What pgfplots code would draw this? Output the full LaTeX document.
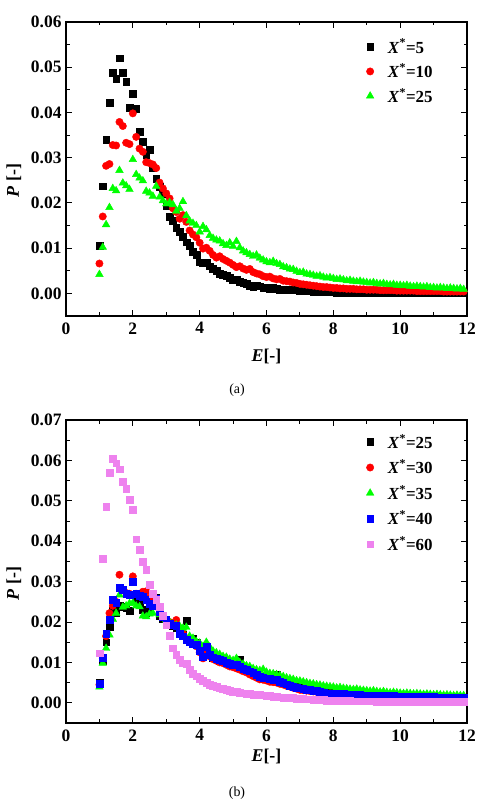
\documentclass[border=0pt]{standalone}
\usepackage{fontspec}
\setmainfont{Liberation Serif}
\usepackage{pgfplots}
\usepackage{pgfplotstable}
\pgfplotsset{compat=1.18}

\definecolor{vio}{RGB}{238,130,238}
\definecolor{lime}{RGB}{0,255,0}

% P(E) for X* = 5, 10, 25
\pgfplotstableread{
E k5 r10 g25
1.0 0.0106 0.0066 0.0042
1.1 0.0237 0.0170 0.0102
1.2 0.0339 0.0282 0.0152
1.3 0.0421 0.0286 0.0190
1.4 0.0488 0.0328 0.0232
1.5 0.0475 0.0327 0.0227
1.6 0.0520 0.0379 0.0272
1.7 0.0488 0.0370 0.0244
1.8 0.0468 0.0333 0.0238
1.9 0.0411 0.0330 0.0230
2.0 0.0442 0.0398 0.0296
2.1 0.0409 0.0346 0.0263
2.2 0.0357 0.0320 0.0255
2.3 0.0335 0.0313 0.0249
2.4 0.0306 0.0290 0.0226
2.5 0.0318 0.0288 0.0222
2.6 0.0277 0.0285 0.0215
2.7 0.0254 0.0277 0.0237
2.8 0.0235 0.0245 0.0213
2.9 0.0221 0.0232 0.0205
3.0 0.0193 0.0221 0.0198
3.1 0.0169 0.0210 0.0201
3.2 0.0160 0.0188 0.0196
3.3 0.0145 0.0180 0.0182
3.4 0.0136 0.0165 0.0188
3.5 0.0126 0.0173 0.0203
3.6 0.0113 0.0158 0.0172
3.7 0.0105 0.0139 0.0160
3.8 0.0093 0.0130 0.0155
3.9 0.0086 0.0124 0.0150
4.0 0.0069 0.0112 0.0136
4.1 0.0067 0.0099 0.0148
4.2 0.0068 0.0101 0.0141
4.3 0.0060 0.0094 0.0128
4.4 0.0054 0.0085 0.0122
4.5 0.0050 0.0079 0.0118
4.6 0.0044 0.0082 0.0116
4.7 0.0041 0.0076 0.0110
4.8 0.0039 0.0072 0.0106
4.9 0.0034 0.0068 0.0112
5.0 0.0031 0.0063 0.0104
5.1 0.0030 0.0058 0.0115
5.2 0.0026 0.0060 0.0101
5.3 0.0024 0.0055 0.0094
5.4 0.0021 0.0052 0.0090
5.5 0.0017 0.0054 0.0086
5.6 0.0015 0.0047 0.0082
5.7 0.0018 0.0044 0.0085
5.8 0.0016 0.0042 0.0078
5.9 0.0013 0.0038 0.0074
6.0 0.0012 0.0036 0.0070
6.1 0.0011 0.0037 0.0068
6.2 0.0012 0.0033 0.0071
6.3 0.0010 0.0031 0.0066
6.4 0.0009 0.0032 0.0064
6.5 0.0008 0.0028 0.0059
6.6 0.0009 0.0027 0.0057
6.7 0.0008 0.0026 0.0054
6.8 0.0008 0.0024 0.0053
6.9 0.0007 0.0023 0.0049
7.0 0.0006 0.0021 0.0046
7.1 0.0006 0.0020 0.0047
7.2 0.0005 0.0019 0.0043
7.3 0.0005 0.0018 0.0042
7.4 0.0004 0.0017 0.0040
7.5 0.0004 0.0016 0.0038
7.6 0.0004 0.0015 0.0039
7.7 0.0003 0.0014 0.0036
7.8 0.0003 0.0014 0.0034
7.9 0.0003 0.0013 0.0035
8.0 0.0003 0.0012 0.0033
8.1 0.0002 0.0012 0.0031
8.2 0.0002 0.0011 0.0032
8.3 0.0002 0.0011 0.0030
8.4 0.0002 0.0010 0.0028
8.5 0.0002 0.0010 0.0029
8.6 0.0002 0.0010 0.0027
8.7 0.0002 0.0009 0.0026
8.8 0.0002 0.0009 0.0027
8.9 0.0002 0.0009 0.0025
9.0 0.0002 0.0008 0.0024
9.1 0.0002 0.0008 0.0023
9.2 0.0002 0.0008 0.0024
9.3 0.0002 0.0008 0.0022
9.4 0.0002 0.0007 0.0021
9.5 0.0002 0.0007 0.0022
9.6 0.0001 0.0007 0.0020
9.7 0.0001 0.0007 0.0019
9.8 0.0001 0.0007 0.0020
9.9 0.0001 0.0006 0.0018
10.0 0.0001 0.0006 0.0018
10.1 0.0001 0.0006 0.0017
10.2 0.0001 0.0006 0.0018
10.3 0.0001 0.0006 0.0016
10.4 0.0001 0.0006 0.0015
10.5 0.0001 0.0005 0.0016
10.6 0.0001 0.0005 0.0015
10.7 0.0001 0.0005 0.0014
10.8 0.0001 0.0005 0.0015
10.9 0.0001 0.0005 0.0013
11.0 0.0001 0.0005 0.0013
11.1 0.0001 0.0005 0.0012
11.2 0.0001 0.0005 0.0013
11.3 0.0001 0.0004 0.0012
11.4 0.0001 0.0004 0.0011
11.5 0.0001 0.0004 0.0012
11.6 0.0001 0.0004 0.0011
11.7 0.0001 0.0004 0.0010
11.8 0.0001 0.0004 0.0011
11.9 0.0001 0.0004 0.0009
}\tabA

% P(E) for X* = 25, 30, 35, 40, 60
\pgfplotstableread{
E k25 r30 g35 b40 p60
1.0 0.0049 0.0045 0.0039 0.0047 0.0123
1.1 0.0105 0.0110 0.0098 0.0112 0.0357
1.2 0.0150 0.0165 0.0135 0.0172 0.0486
1.3 0.0189 0.0222 0.0168 0.0205 0.0570
1.4 0.0228 0.0240 0.0207 0.0256 0.0604
1.5 0.0222 0.0250 0.0222 0.0247 0.0593
1.6 0.0240 0.0317 0.0267 0.0284 0.0578
1.7 0.0238 0.0280 0.0237 0.0280 0.0548
1.8 0.0235 0.0272 0.0240 0.0271 0.0529
1.9 0.0228 0.0270 0.0246 0.0268 0.0502
2.0 0.0300 0.0313 0.0247 0.0300 0.0477
2.1 0.0255 0.0270 0.0240 0.0270 0.0405
2.2 0.0250 0.0268 0.0238 0.0265 0.0378
2.3 0.0230 0.0275 0.0215 0.0263 0.0350
2.4 0.0222 0.0276 0.0213 0.0256 0.0329
2.5 0.0232 0.0260 0.0220 0.0245 0.0292
2.6 0.0247 0.0250 0.0222 0.0240 0.0270
2.7 0.0260 0.0245 0.0242 0.0259 0.0255
2.8 0.0215 0.0230 0.0218 0.0225 0.0237
2.9 0.0208 0.0212 0.0210 0.0213 0.0215
3.0 0.0200 0.0205 0.0205 0.0205 0.0192
3.1 0.0196 0.0200 0.0200 0.0197 0.0166
3.2 0.0190 0.0198 0.0195 0.0192 0.0135
3.3 0.0186 0.0205 0.0192 0.0190 0.0120
3.4 0.0175 0.0185 0.0190 0.0172 0.0106
3.5 0.0168 0.0172 0.0185 0.0165 0.0098
3.6 0.0204 0.0160 0.0187 0.0156 0.0096
3.7 0.0160 0.0150 0.0165 0.0150 0.0082
3.8 0.0158 0.0145 0.0160 0.0145 0.0073
3.9 0.0150 0.0140 0.0152 0.0143 0.0066
4.0 0.0128 0.0125 0.0148 0.0128 0.0060
4.1 0.0118 0.0110 0.0140 0.0115 0.0055
4.2 0.0136 0.0128 0.0150 0.0139 0.0050
4.3 0.0120 0.0115 0.0138 0.0120 0.0045
4.4 0.0112 0.0108 0.0128 0.0113 0.0042
4.5 0.0108 0.0104 0.0124 0.0110 0.0039
4.6 0.0105 0.0100 0.0120 0.0106 0.0036
4.7 0.0102 0.0098 0.0115 0.0104 0.0034
4.8 0.0098 0.0094 0.0113 0.0100 0.0032
4.9 0.0096 0.0090 0.0108 0.0097 0.0030
5.0 0.0093 0.0088 0.0105 0.0094 0.0028
5.1 0.0092 0.0085 0.0110 0.0094 0.0027
5.2 0.0106 0.0082 0.0100 0.0090 0.0025
5.3 0.0085 0.0078 0.0096 0.0085 0.0024
5.4 0.0080 0.0075 0.0092 0.0082 0.0023
5.5 0.0076 0.0070 0.0090 0.0078 0.0022
5.6 0.0073 0.0066 0.0085 0.0075 0.0021
5.7 0.0068 0.0062 0.0082 0.0070 0.0020
5.8 0.0064 0.0058 0.0080 0.0065 0.0020
5.9 0.0062 0.0057 0.0083 0.0063 0.0019
6.0 0.0060 0.0055 0.0076 0.0061 0.0018
6.1 0.0058 0.0052 0.0073 0.0059 0.0017
6.2 0.0057 0.0051 0.0072 0.0058 0.0016
6.3 0.0069 0.0050 0.0070 0.0057 0.0015
6.4 0.0053 0.0047 0.0068 0.0052 0.0014
6.5 0.0050 0.0045 0.0065 0.0050 0.0013
6.6 0.0047 0.0042 0.0062 0.0046 0.0013
6.7 0.0044 0.0040 0.0060 0.0043 0.0012
6.8 0.0041 0.0037 0.0058 0.0040 0.0012
6.9 0.0039 0.0035 0.0055 0.0038 0.0011
7.0 0.0037 0.0032 0.0054 0.0036 0.0010
7.1 0.0036 0.0031 0.0052 0.0035 0.0010
7.2 0.0034 0.0030 0.0050 0.0033 0.0009
7.3 0.0033 0.0029 0.0048 0.0032 0.0009
7.4 0.0031 0.0028 0.0047 0.0030 0.0008
7.5 0.0030 0.0027 0.0045 0.0029 0.0008
7.6 0.0028 0.0026 0.0044 0.0027 0.0007
7.7 0.0027 0.0025 0.0042 0.0026 0.0007
7.8 0.0026 0.0024 0.0041 0.0024 0.0006
7.9 0.0025 0.0023 0.0040 0.0024 0.0006
8.0 0.0024 0.0022 0.0039 0.0023 0.0006
8.1 0.0023 0.0022 0.0037 0.0023 0.0005
8.2 0.0023 0.0021 0.0038 0.0022 0.0005
8.3 0.0022 0.0021 0.0036 0.0022 0.0005
8.4 0.0022 0.0020 0.0035 0.0021 0.0005
8.5 0.0021 0.0020 0.0034 0.0021 0.0005
8.6 0.0021 0.0019 0.0033 0.0020 0.0004
8.7 0.0020 0.0019 0.0034 0.0020 0.0004
8.8 0.0020 0.0019 0.0032 0.0020 0.0004
8.9 0.0020 0.0018 0.0031 0.0019 0.0004
9.0 0.0019 0.0018 0.0030 0.0019 0.0004
9.1 0.0019 0.0018 0.0029 0.0019 0.0004
9.2 0.0019 0.0017 0.0030 0.0018 0.0004
9.3 0.0018 0.0017 0.0028 0.0018 0.0003
9.4 0.0018 0.0017 0.0027 0.0018 0.0003
9.5 0.0018 0.0016 0.0028 0.0017 0.0003
9.6 0.0017 0.0016 0.0026 0.0017 0.0003
9.7 0.0017 0.0016 0.0025 0.0017 0.0003
9.8 0.0017 0.0016 0.0026 0.0017 0.0003
9.9 0.0017 0.0015 0.0025 0.0016 0.0003
10.0 0.0016 0.0015 0.0024 0.0016 0.0003
10.1 0.0016 0.0015 0.0023 0.0016 0.0003
10.2 0.0016 0.0015 0.0024 0.0016 0.0003
10.3 0.0016 0.0015 0.0023 0.0016 0.0003
10.4 0.0016 0.0014 0.0022 0.0015 0.0003
10.5 0.0015 0.0014 0.0023 0.0015 0.0003
10.6 0.0015 0.0014 0.0022 0.0015 0.0002
10.7 0.0015 0.0014 0.0021 0.0015 0.0002
10.8 0.0015 0.0014 0.0022 0.0015 0.0002
10.9 0.0015 0.0014 0.0021 0.0015 0.0002
11.0 0.0015 0.0013 0.0020 0.0015 0.0002
11.1 0.0014 0.0013 0.0021 0.0014 0.0002
11.2 0.0014 0.0013 0.0020 0.0014 0.0002
11.3 0.0014 0.0013 0.0019 0.0014 0.0002
11.4 0.0014 0.0013 0.0020 0.0014 0.0002
11.5 0.0014 0.0013 0.0019 0.0014 0.0002
11.6 0.0014 0.0013 0.0018 0.0014 0.0002
11.7 0.0014 0.0013 0.0019 0.0014 0.0002
11.8 0.0014 0.0012 0.0018 0.0014 0.0002
11.9 0.0013 0.0012 0.0018 0.0013 0.0002
}\tabB

% bold tick label text
\newcommand{\tl}[1]{{\fontsize{17.5}{20}\selectfont\bfseries #1}}

\pgfplotsset{
  panel/.style={
    scale only axis, width=401bp,
    xmin=0, xmax=12, xtick={0,2,4,6,8,10,12},
    xticklabels={\tl{0},\tl{2},\tl{4},\tl{6},\tl{8},\tl{10},\tl{12}},
    minor x tick num=1,
    ymin=-0.005, minor y tick num=1,
    scaled y ticks=false,
    tick align=inside,
    major tick length=6bp, minor tick length=3.5bp,
    axis line style={line width=1.1bp},
    every tick/.append style={black, line width=0.9bp},
    xticklabel style={yshift=-3bp},
    yticklabel style={xshift=-1bp},
    label style={font=\fontsize{18}{21}\selectfont\bfseries},
    xlabel={\textit{E}[-]},
    ylabel={\textit{P} [-]},
    ylabel style={at={(axis description cs:-0.13,0.46)}, anchor=center},
    legend style={draw=none, fill=none, font=\fontsize{17}{20}\selectfont\bfseries,
                  anchor=north west, row sep=5bp,
                  /tikz/every odd column/.append style={column sep=12bp}},
    legend cell align=left,
    legend image code/.code={\draw[mark repeat=2,mark phase=2,#1]
        plot coordinates {(0bp,0bp)(7bp,0bp)(14bp,0bp)};},
  },
  sq/.style={only marks, mark=square*, mark size=3.4bp, #1, mark options={draw=#1, fill=#1}},
  ci/.style={only marks, mark=*, mark size=3.7bp, #1, mark options={draw=#1, fill=#1}},
  tr/.style={only marks, mark=triangle*, mark size=4.4bp, #1, mark options={draw=#1, fill=#1}},
}

\newcommand{\xs}[1]{\textit{X}\textsuperscript{*}=#1}

\begin{document}
\begin{tikzpicture}
\path[use as bounding box] (0,0) rectangle (477bp,801bp);

% (a)
\begin{axis}[panel, at={(66bp,485bp)}, anchor=south west, height=294bp,
    ymax=0.06, ytick={0,0.01,0.02,0.03,0.04,0.05,0.06},
    yticklabels={\tl{0.00},\tl{0.01},\tl{0.02},\tl{0.03},\tl{0.04},\tl{0.05},\tl{0.06}},
    xlabel style={at={(axis description cs:0.5,-0.136)}, anchor=center},
    legend style={at={(rel axis cs:0.741,0.956)}}]
  \addplot[sq=black] table[x=E, y=k5] {\tabA};
  \addlegendentry{\xs{5}}
  \addplot[ci=red] table[x=E, y=r10] {\tabA};
  \addlegendentry{\xs{10}}
  \addplot[tr=lime] table[x=E, y=g25] {\tabA};
  \addlegendentry{\xs{25}}
\end{axis}
\node[font=\fontsize{14}{16}\selectfont] at (237bp,411bp) {(a)};

% (b)
\begin{axis}[panel, at={(66bp,78bp)}, anchor=south west, height=303bp,
    ymax=0.07, ytick={0,0.01,0.02,0.03,0.04,0.05,0.06,0.07},
    yticklabels={\tl{0.00},\tl{0.01},\tl{0.02},\tl{0.03},\tl{0.04},\tl{0.05},\tl{0.06},\tl{0.07}},
    xlabel style={at={(axis description cs:0.5,-0.112)}, anchor=center},
    legend style={at={(rel axis cs:0.741,0.967)}, row sep=6bp}]
  \addplot[sq=black] table[x=E, y=k25] {\tabB};
  \addlegendentry{\xs{25}}
  \addplot[ci=red] table[x=E, y=r30] {\tabB};
  \addlegendentry{\xs{30}}
  \addplot[tr=lime] table[x=E, y=g35] {\tabB};
  \addlegendentry{\xs{35}}
  \addplot[sq=blue] table[x=E, y=b40] {\tabB};
  \addlegendentry{\xs{40}}
  \addplot[sq=vio] table[x=E, y=p60] {\tabB};
  \addlegendentry{\xs{60}}
\end{axis}
\node[font=\fontsize{14}{16}\selectfont] at (237bp,8bp) {(b)};
\end{tikzpicture}
\end{document}
